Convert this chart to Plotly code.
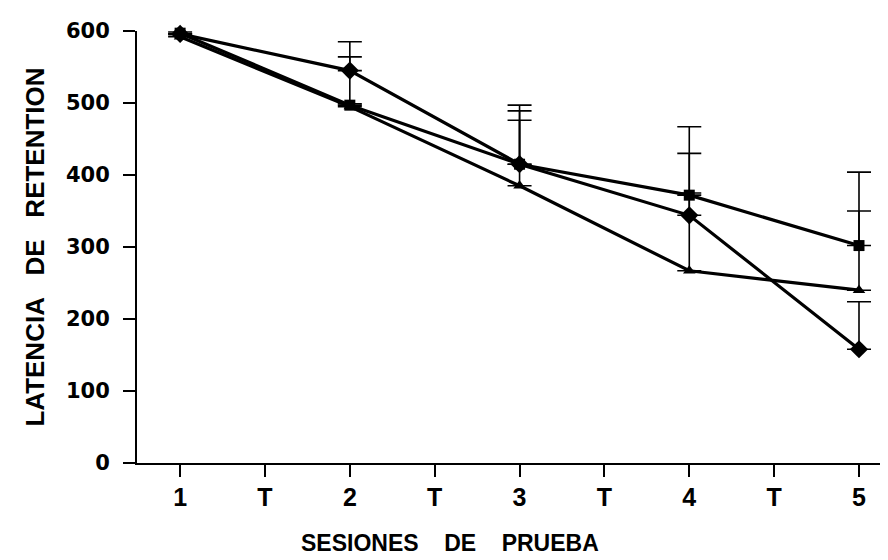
import plotly.graph_objects as go

sessions = [1, 2, 3, 4, 5]
tick_vals = [1, 1.5, 2, 2.5, 3, 3.5, 4, 4.5, 5]
tick_text = ["1", "T", "2", "T", "3", "T", "4", "T", "5"]
y_ticks = [0, 100, 200, 300, 400, 500, 600]

diamond_vals = [596, 545, 415, 344, 158]
diamond_err = [4, 40, 82, 86, 66]

square_vals = [597, 497, 415, 372, 302]
square_err = [4, 67, 61, 3, 102]

triangle_vals = [592, 495, 385, 267, 240]
triangle_err = [3, 4, 104, 200, 110]

x_title = "SESIONES\u00a0 \u00a0 DE\u00a0 \u00a0 PRUEBA"
y_title = "LATENCIA\u00a0 \u00a0DE\u00a0 \u00a0RETENTION"

series = [
    ("square", square_vals, square_err, "square", 11),
    ("triangle", triangle_vals, triangle_err, "triangle-up", 11),
    ("diamond", diamond_vals, diamond_err, "diamond", 14),
]

fig = go.Figure()
for name, vals, err, sym, size in series:
    fig.add_trace(go.Scatter(
        x=sessions, y=vals, name=name, mode="lines+markers",
        line=dict(color="black", width=3.2),
        marker=dict(symbol=sym, size=size, color="black"),
        error_y=dict(type="data", symmetric=False, array=err,
                     arrayminus=[0] * len(err), color="black",
                     thickness=1.6, width=12),
        cliponaxis=False,
    ))

fig.update_layout(
    width=888, height=560,
    margin=dict(l=129, r=0, t=23, b=105),
    plot_bgcolor="white", paper_bgcolor="white",
    showlegend=False,
    font=dict(family="Liberation Sans, Arial", color="black"),
    annotations=[dict(
        text=x_title, xref="paper", yref="paper",
        x=0.413, y=-0.185, xanchor="center", yanchor="middle",
        showarrow=False,
        font=dict(family="Liberation Sans, Arial", size=23, weight="bold"),
    )],
)
fig.update_xaxes(
    range=[0.746, 5.218], showgrid=False, zeroline=False,
    showline=True, linecolor="black", linewidth=2,
    ticks="outside", ticklen=12, tickwidth=1.5, tickcolor="black",
    tickvals=tick_vals, ticktext=tick_text,
    tickfont=dict(family="Liberation Sans, Arial", size=25, weight="bold"),
    ticklabelstandoff=-1,
)
fig.update_yaxes(
    range=[0, 600], showgrid=False, zeroline=False,
    showline=True, linecolor="black", linewidth=2,
    ticks="outside", ticklen=12, tickwidth=1.5, tickcolor="black",
    tickvals=y_ticks,
    tickfont=dict(family="DejaVu Sans", size=21, weight="bold"),
    ticklabelstandoff=9,
    title=dict(text=y_title,
               font=dict(family="Liberation Sans, Arial", size=26, weight="bold"),
               standoff=14),
)

fig.write_html("out.html")
